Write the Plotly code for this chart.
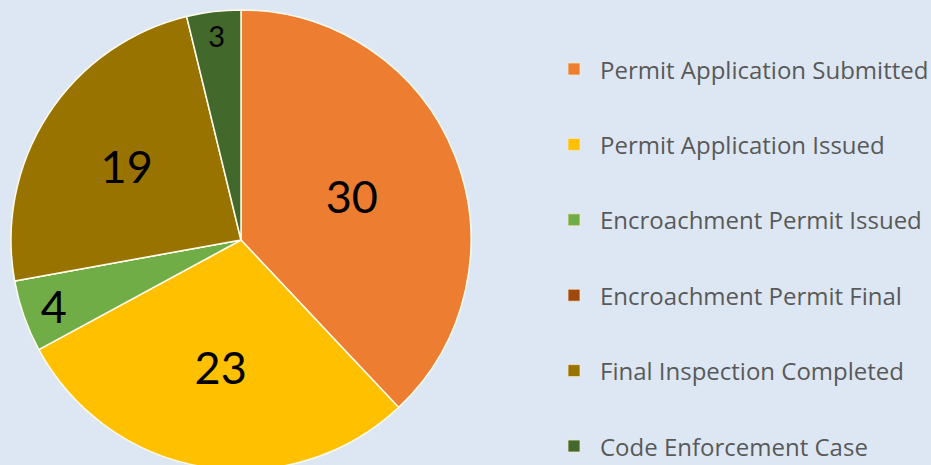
import plotly.graph_objects as go

categories = [
    "Permit Application Submitted",
    "Permit Application Issued",
    "Encroachment Permit Issued",
    "Encroachment Permit Final",
    "Final Inspection Completed",
    "Code Enforcement Case",
]
values = [30, 23, 4, 0, 19, 3]
colors = ["#ED7D31", "#FFC000", "#70AD47", "#9E480E", "#997300", "#43682B"]
label_sizes = [45, 45, 45, 45, 45, 29]

W, H = 931, 470   # page window is 465 tall; the pie bottom is clipped as in the reference
BG = "#DDE7F3"

fig = go.Figure()
fig.add_trace(go.Pie(
    labels=categories,
    values=values,
    sort=False,
    direction="clockwise",
    rotation=0,
    marker=dict(colors=colors, line=dict(color="#FFFBEA", width=1.5)),
    texttemplate=[str(v) if v else "" for v in values],
    textposition="inside",
    insidetextorientation="horizontal",
    textfont=dict(family="Lato, sans-serif", size=label_sizes, color="#000000"),
    showlegend=False,
    hoverinfo="label+value",
    domain=dict(x=[11 / W, 471 / W], y=[0, 460 / H]),
))

# legend drawn as annotations + square markers
legend_x_marker = 574
legend_x_text = 598
legend_y0 = 69
legend_dy = 75.4
for i, (cat, col) in enumerate(zip(categories, colors)):
    yc = legend_y0 + i * legend_dy
    fig.add_shape(
        type="rect", xref="paper", yref="paper",
        x0=(legend_x_marker - 6) / W, x1=(legend_x_marker + 6) / W,
        y0=1 - (yc + 6) / H, y1=1 - (yc - 6) / H,
        fillcolor=col, line=dict(color="#F5E6C8", width=0.8),
    )
    fig.add_annotation(
        x=legend_x_text / W, y=1 - yc / H, xref="paper", yref="paper",
        text=cat, showarrow=False, xanchor="left", yanchor="middle",
        font=dict(family="Open Sans, sans-serif", size=24, color="#595959"),
    )

fig.update_layout(
    width=W, height=H,
    margin=dict(l=0, r=0, t=0, b=0),
    paper_bgcolor=BG, plot_bgcolor=BG,
)
fig.write_html(
    "out.html",
    config={"displayModeBar": False},
    post_script="document.body.style.margin='0';document.body.style.overflow='hidden';"
                "document.body.style.background='" + BG + "';",
)
